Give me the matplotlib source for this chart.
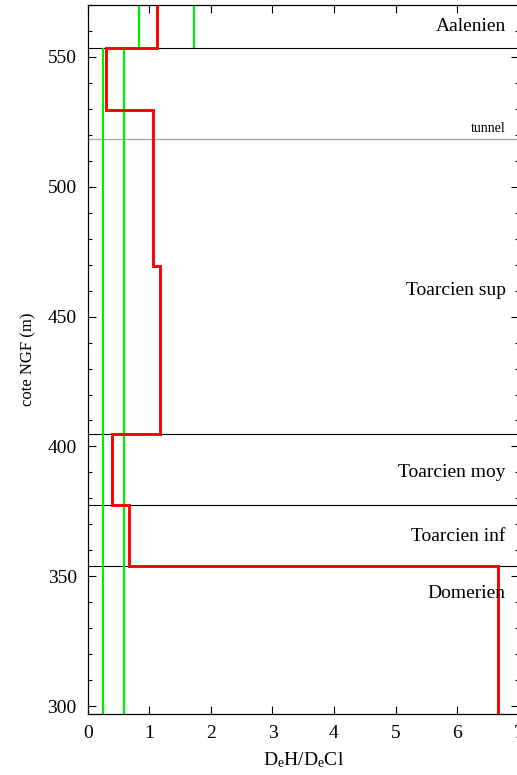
import matplotlib
matplotlib.use("Agg")
import matplotlib.pyplot as plt
from matplotlib.ticker import MultipleLocator

plt.rcParams['font.family'] = ['Liberation Serif', 'DejaVu Serif']
plt.rcParams['mathtext.fontset'] = 'custom'
plt.rcParams['mathtext.rm'] = 'Liberation Serif'
plt.rcParams['mathtext.it'] = 'Liberation Serif'

# Data
layer_edges = [297, 354, 377.4, 404.8, 469.5, 529.5, 553.5, 570]
red_values = [6.67, 0.67, 0.39, 1.17, 1.06, 0.30, 1.13]

green_lower_x = [0.24, 0.58]
green_lower_range = (297, 553.5)
green_upper_x = [0.83, 1.73]
green_upper_range = (553.5, 570)

boundaries_black = [553.5, 404.8, 377.4, 354]
boundary_tunnel = 518.5

formations = ["Aalenien", "Toarcien sup", "Toarcien moy", "Toarcien inf", "Domerien"]
formation_y = [561.5, 460, 390, 365.5, 343.5]

fig = plt.figure(figsize=(5.17, 7.75), dpi=100)
ax = fig.add_axes([0.170, 0.0787, 0.833, 0.915])

ax.vlines(green_lower_x, *green_lower_range, colors='#00ee00', lw=1.6, zorder=2)
ax.vlines(green_upper_x, *green_upper_range, colors='#00ee00', lw=1.6, zorder=2)
for b in boundaries_black:
    ax.axhline(b, color='black', lw=0.8, zorder=1)
ax.axhline(boundary_tunnel, color='#aaaaaa', lw=1.0, zorder=1)
ax.stairs(red_values, layer_edges, orientation='horizontal', baseline=None,
          color='#ff0000', lw=2.1, zorder=3)

for name, yv in zip(formations, formation_y):
    ax.text(0.97, yv, name, transform=ax.get_yaxis_transform(), ha='right',
            va='center', fontsize=14)
ax.text(0.97, 522.5, "tunnel", transform=ax.get_yaxis_transform(), ha='right',
        va='center', fontsize=10)

ax.set_xlim(0, 7)
ax.set_ylim(297, 570)
ax.xaxis.set_major_locator(MultipleLocator(1))
ax.yaxis.set_major_locator(MultipleLocator(50))
ax.yaxis.set_minor_locator(MultipleLocator(10))
ax.tick_params(which='both', direction='in', top=True, right=True, labelsize=14)
ax.tick_params(axis='x', pad=8)
ax.tick_params(axis='y', pad=8)
ax.tick_params(which='major', length=6, width=0.8)
ax.tick_params(which='minor', length=3, width=0.8)
for s in ax.spines.values():
    s.set_linewidth(0.9)

ax.set_xlabel(r"D$_\mathrm{e}$H/D$_\mathrm{e}$Cl", fontsize=14, labelpad=6)
ax.set_ylabel("cote NGF (m)", fontsize=12, labelpad=8)

fig.savefig("out.png", dpi=100)
